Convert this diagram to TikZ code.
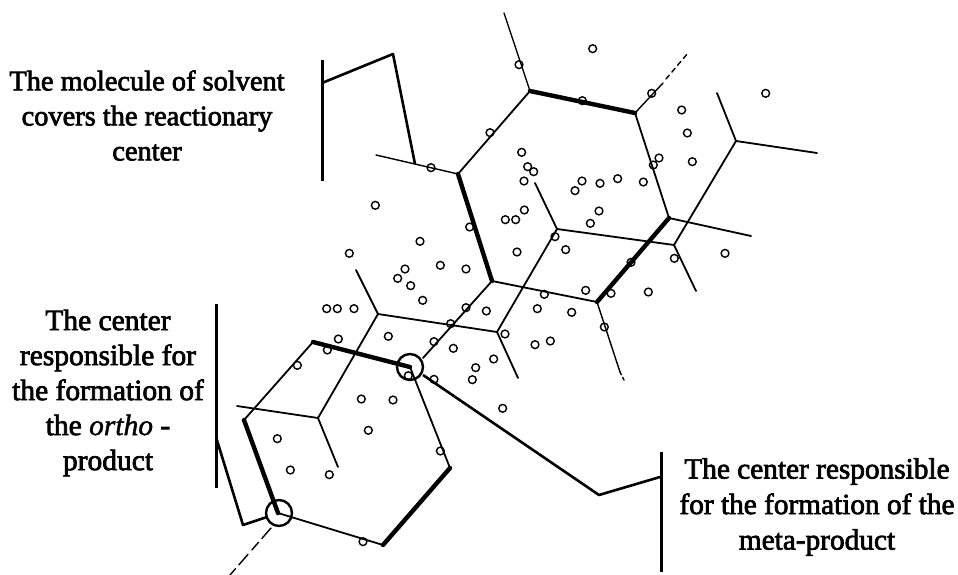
\documentclass[tikz,border=0pt]{standalone}
\usepackage{fontspec}
\setmainfont{Liberation Serif}[FakeBold=2.4,ItalicFeatures={FakeBold=1.4}]
\tikzset{
 bond/.style={line width=1.8pt,line join=round,line cap=round,black},
 thick bond/.style={line width=4.4pt,line cap=round,black},
 stub/.style={line width=1.4pt,line cap=round,black},
 leader/.style={line width=2.6pt,line join=round,black},
 bar/.style={line width=3pt,black},
 atom/.style={line width=1.4pt,black},
 ring/.style={line width=2.4pt,black},
 lab/.style={align=center,inner sep=0pt,text=black}
}
\begin{document}
\begin{tikzpicture}[x=1pt,y=-1pt]
\useasboundingbox (0,0) rectangle (958,575);
% vertices
\coordinate (A) at (530,91);
\coordinate (B) at (635,113);
\coordinate (C) at (669,218);
\coordinate (D) at (597,302);
\coordinate (E) at (492,281);
\coordinate (F) at (458,174);
\coordinate (G) at (557,229);
\coordinate (H) at (674,245);
\coordinate (I) at (736,141);
\coordinate (J) at (378,314);
\coordinate (K) at (497,332);
\coordinate (L) at (313,342);
\coordinate (M) at (410,367);
\coordinate (N) at (450,468);
\coordinate (O) at (383,545);
\coordinate (P) at (278,513);
\coordinate (Q) at (244,420);
\coordinate (R) at (318,418);
% upper hexagon
\draw[bond] (A)--(F) (B)--(C) (D)--(E);
\draw[thick bond] (A)--(B);
\draw[thick bond] (F)--(E);
\draw[thick bond] (C)--(D);
% stubs
\draw[stub] (504,13)--(A);
\draw[stub] (B)--(663,83);
\draw[stub,dash pattern=on 5pt off 4pt] (666,79)--(688,53);
\draw[stub] (F)--(376,155);
\draw[bond] (C)--(751,236);
\draw[bond] (535,183)--(G)--(H)--(696,291);
\draw[bond] (717,93)--(I)--(817,153);
\draw[bond] (I)--(H);
\draw[bond] (G)--(K);
\draw[bond] (356,270)--(J)--(K)--(518,378);
\draw[stub] (D)--(620,372);
\draw[stub,dash pattern=on 3pt off 3pt] (620,372)--(624,380);
\draw[bond] (E)--(423,358);
\draw[bond] (J)--(R)--(237,406);
\draw[bond] (R)--(338,467);
% lower hexagon
\draw[bond] (L)--(Q) (M)--(N) (O)--(P);
\draw[thick bond] (L)--(M);
\draw[thick bond] (N)--(O);
\draw[thick bond] (Q)--(P);
\draw[stub,dash pattern=on 14pt off 5pt on 10pt off 6pt] (271,528)--(230,575);
% rings
\draw[ring] (M) circle (13);
\draw[ring] (279,513) circle (13);
% leaders
\draw[bar] (322,60)--(322,181);
\draw[leader] (322,83)--(393,54)--(415,164);
\draw[bar] (216,304)--(216,488);
\draw[leader] (216,437)--(243,525)--(267,517);
\draw[bar] (661,452)--(661,572);
\draw[leader] (423,375)--(599,495)--(660,477);
% atoms (upper part)
\foreach \x/\y in {818/146,597/194,995/280,787/302,510/398,1085/330,1102/399,1117/485,1337/280,1017/474,1000/495,605/457,623/500,641/515,612/543,786/543,840/550,893/536,970/546,765/572,837/633,811/670,613/630,587/659,556/659,333/503,166/616,449/681,300/724,88/760,705/710,737/749,591/756,361/796,255/807,233/835,272/857,438/807,308/901,20/926,52/926,102/926,438/923,499/933,652/926,755/937,673/883,797/871,873/880,985/876,933/787,1063/775,1215/760}
 \draw[atom] ({320+\x/3},{\y/3}) circle (3.9);
% atoms (lower part)
\foreach \x/\y in {385/177,535/169,722/131,672/185,730/205,885/162,1183/141,975/194,1021/183,851/237,797/263,787/299,352/210,262/256,595/287,672/298,878/385,454/357,549/360,475/451,202/476,241/570,358/584,691/513,459/785}
 \draw[atom] ({210+\x/3},{280+\y/3}) circle (3.9);
% labels
\node[lab,font=\fontsize{28.4}{35}\selectfont] (t1) at (147,115.5) {The molecule of solvent\\covers the reactionary\\center};
\node[lab,font=\fontsize{29.5}{35}\selectfont] (t2) at (108,393) {The center\\responsible for\\the formation of\\the \textit{ortho} -\\product};
\node[lab,font=\fontsize{29.3}{35.5}\selectfont] (t3) at (817,507) {The center responsible\\for the formation of the\\meta-product};
\end{tikzpicture}
\end{document}
